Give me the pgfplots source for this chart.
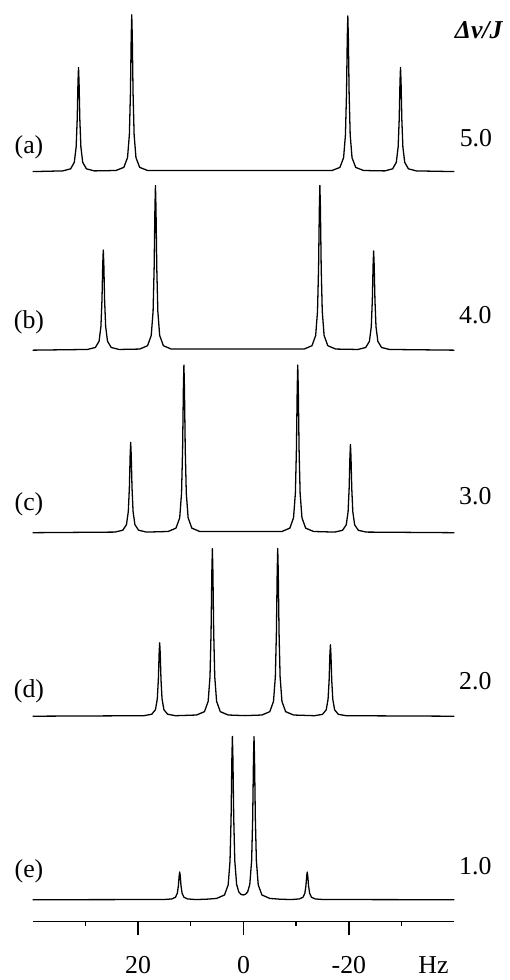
\documentclass[border=0pt]{standalone}
\usepackage{pgfplots}
\pgfplotsset{compat=1.18}
\usepackage{fontspec}
\setmainfont{Liberation Serif}

\begin{document}
\begin{tikzpicture}
\begin{axis}[
    scale only axis,
    width=212.5pt, height=464.5pt,
    xmin=-40, xmax=40, x dir=reverse,
    ymin=51, ymax=980,
    axis x line*=bottom, axis y line=none,
    axis line style={line width=0.7pt},
    xtick={-20,0,20}, xticklabels={-20,0,20},
    minor xtick={-30,-10,10,30},
    tick align=outside,
    major tick length=7pt, minor tick length=2pt,
    tick style={black, line width=0.7pt},
    xticklabel style={anchor=base, yshift=-19pt},
    font=\fontsize{13}{15}\selectfont,
    clip=false,
]
% (a) dv/J = 5.0
\addplot[black, line width=0.65pt, line join=round] coordinates {
 (40,807)
 (34.3,807.7)(32.8,809.8)(32.1,816.3)(31.75,831.8)(31.55,859.5)(31.4,897.5)(31.3,912)(31.2,897.5)(31.05,859.5)(30.85,831.8)(30.5,816.3)(29.8,809.8)(28.3,807.7)
 (24.2,808.1)(22.7,811.3)(22.0,821.1)(21.65,844.3)(21.45,886)(21.3,943.2)(21.2,965)(21.1,943.2)(20.95,886)(20.75,844.3)(20.4,821.1)(19.7,811.3)(18.2,808.1)
 (-16.8,808.1)(-18.3,811.2)(-19.0,821.0)(-19.35,844.1)(-19.55,885.5)(-19.7,942.3)(-19.8,964)(-19.9,942.3)(-20.05,885.5)(-20.25,844.1)(-20.6,821.0)(-21.3,811.2)(-22.8,808.1)
 (-26.8,807.7)(-28.3,809.8)(-29.0,816.3)(-29.35,831.8)(-29.55,859.5)(-29.7,897.5)(-29.8,912)(-29.9,897.5)(-30.05,859.5)(-30.25,831.8)(-30.6,816.3)(-31.3,809.8)(-32.8,807.7)
 (-40,807)
};
% (b) dv/J = 4.0
\addplot[black, line width=0.65pt, line join=round] coordinates {
 (40,627)
 (29.6,627.7)(28.1,629.7)(27.4,636)(27.05,650.8)(26.85,677.5)(26.7,714.1)(26.6,728)(26.5,714.1)(26.35,677.5)(26.15,650.8)(25.8,636)(25.1,629.7)(23.6,627.7)
 (19.7,628.1)(18.2,631.5)(17.5,641.8)(17.15,666.2)(16.95,710)(16.8,770.1)(16.7,793)(16.6,770.1)(16.45,710)(16.25,666.2)(15.9,641.8)(15.2,631.5)(13.7,628.1)
 (-11.5,628.1)(-13.0,631.5)(-13.7,641.8)(-14.05,666.2)(-14.25,710)(-14.4,770.1)(-14.5,793)(-14.6,770.1)(-14.75,710)(-14.95,666.2)(-15.3,641.8)(-16.0,631.5)(-17.5,628.1)
 (-21.7,627.7)(-23.2,629.7)(-23.9,635.9)(-24.25,650.6)(-24.45,677)(-24.6,713.2)(-24.7,727)(-24.8,713.2)(-24.95,677)(-25.15,650.6)(-25.5,635.9)(-26.2,629.7)(-27.7,627.7)
 (-40,627)
};
% (c) dv/J = 3.0
\addplot[black, line width=0.65pt, line join=round] coordinates {
 (40,443)
 (24.4,443.6)(22.9,445.5)(22.2,451.1)(21.85,464.5)(21.65,488.5)(21.5,521.4)(21.4,534)(21.3,521.4)(21.15,488.5)(20.95,464.5)(20.6,451.1)(19.9,445.5)(18.4,443.6)
 (14.3,444.2)(12.8,447.6)(12.1,458)(11.75,482.9)(11.55,527.5)(11.4,588.7)(11.3,612)(11.2,588.7)(11.05,527.5)(10.85,482.9)(10.5,458)(9.8,447.6)(8.3,444.2)
 (-7.3,444.2)(-8.8,447.6)(-9.5,458)(-9.85,482.9)(-10.05,527.5)(-10.2,588.7)(-10.3,612)(-10.4,588.7)(-10.55,527.5)(-10.75,482.9)(-11.1,458)(-11.8,447.6)(-13.3,444.2)
 (-17.3,443.6)(-18.8,445.4)(-19.5,450.9)(-19.85,464)(-20.05,487.5)(-20.2,519.7)(-20.3,532)(-20.4,519.7)(-20.55,487.5)(-20.75,464)(-21.1,450.9)(-21.8,445.4)(-23.3,443.6)
 (-40,443)
};
% (d) dv/J = 2.0
\addplot[black, line width=0.65pt, line join=round] coordinates {
 (40,258)
 (18.9,258.5)(17.4,260)(16.7,264.6)(16.35,275.5)(16.15,295)(16.0,321.8)(15.9,332)(15.8,321.8)(15.65,295)(15.45,275.5)(15.1,264.6)(14.4,260)(12.9,258.5)
 (8.9,259.2)(7.4,262.6)(6.7,273)(6.35,297.9)(6.15,342.5)(6.0,403.7)(5.9,427)(5.8,403.7)(5.65,342.5)(5.45,297.9)(5.1,273)(4.4,262.6)(2.9,259.2)
 (-0.3,258.6)
 (-3.5,259.2)(-5.0,262.6)(-5.7,273)(-6.05,297.9)(-6.25,342.5)(-6.4,403.7)(-6.5,427)(-6.6,403.7)(-6.75,342.5)(-6.95,297.9)(-7.3,273)(-8.0,262.6)(-9.5,259.2)
 (-13.5,258.5)(-15.0,259.9)(-15.7,264.4)(-16.05,275)(-16.25,294)(-16.4,320.1)(-16.5,330)(-16.6,320.1)(-16.75,294)(-16.95,275)(-17.3,264.4)(-18.0,259.9)(-19.5,258.5)
 (-40,258)
};
% (e) dv/J = 1.0
\addplot[black, line width=0.65pt, line join=round] coordinates {
 (40,73)
 (15.1,73.2)(13.6,73.8)(12.9,75.5)(12.55,79.6)(12.35,87)(12.2,97.1)(12.1,101)(12.0,97.1)(11.85,87)(11.65,79.6)(11.3,75.5)(10.6,73.8)(9.1,73.2)
 (7.1,73.5)(5.1,74.3)(3.6,77.8)(2.9,88.0)(2.55,112.2)(2.35,155.5)(2.2,215.0)(2.1,237.6)(2.0,215.0)(1.85,155.7)(1.65,112.5)(1.3,88.5)(0.9,81.0)(0.5,78.5)
 (0.05,77.8)
 (-0.4,78.5)(-0.8,81.0)(-1.2,88.5)(-1.55,112.5)(-1.75,155.7)(-1.9,215.0)(-2.0,237.6)(-2.1,215.0)(-2.25,155.5)(-2.45,112.2)(-2.8,88.0)(-3.5,77.8)(-5.0,74.3)(-7.0,73.5)
 (-9.1,73.2)(-10.6,73.8)(-11.3,75.5)(-11.65,79.6)(-11.85,87)(-12.0,97.1)(-12.1,101)(-12.2,97.1)(-12.35,87)(-12.55,79.6)(-12.9,75.5)(-13.6,73.8)(-15.1,73.2)
 (-40,73)
};

% labels
\node at (axis cs:40.7,831) {(a)};
\node at (axis cs:40.7,655) {(b)};
\node at (axis cs:40.7,472) {(c)};
\node at (axis cs:40.7,283) {(d)};
\node at (axis cs:40.7,102) {(e)};
\node at (axis cs:-44.1,840.5) {5.0};
\node at (axis cs:-44.0,662) {4.0};
\node at (axis cs:-44.0,480) {3.0};
\node at (axis cs:-44.0,293) {2.0};
\node at (axis cs:-44.0,107) {1.0};
\node at (axis cs:-44.7,949.5) {\textbf{\textit{Δν/J}}};
\node[anchor=base] at (axis cs:-36.05,-1) {Hz};

% page frame
\path (axis cs:46.2,0) rectangle (axis cs:-49.8,980);
\end{axis}
\end{tikzpicture}
\end{document}
